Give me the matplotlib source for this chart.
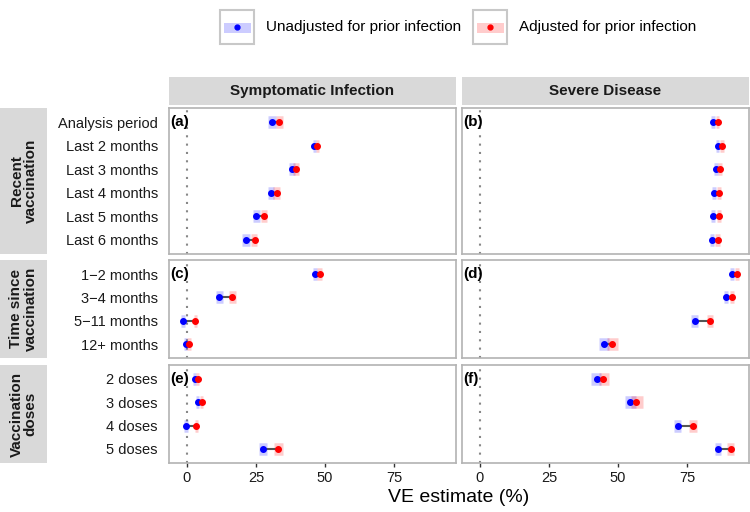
import matplotlib

matplotlib.use("Agg")
import matplotlib.pyplot as plt
from matplotlib.patches import Rectangle
from matplotlib.transforms import blended_transform_factory

plt.rcParams["font.family"] = ["Liberation Sans", "DejaVu Sans"]

# ---- data -----------------------------------------------------------------
groups = ["Recent\nvaccination", "Time since\nvaccination", "Vaccination\ndoses"]
group_sizes = [6, 4, 4]
categories = [
    "Analysis period", "Last 2 months", "Last 3 months", "Last 4 months",
    "Last 5 months", "Last 6 months",
    "1\u22122 months", "3\u22124 months", "5\u221211 months", "12+ months",
    "2 doses", "3 doses", "4 doses", "5 doses",
]
outcomes = ["Symptomatic Infection", "Severe Disease"]
panel_tags = [["(a)", "(b)"], ["(c)", "(d)"], ["(e)", "(f)"]]

sym_unadj = [30.7, 46.1, 38.0, 30.4, 25.2, 21.4, 46.5, 11.6, -1.3, -0.4, 2.8, 3.9, -0.3, 27.7]
sym_unadj_lo = [29.2, 45.6, 37.1, 29.2, 24.0, 20.0, 45.6, 10.5, -2.0, -1.0, 2.2, 3.3, -0.9, 26.0]
sym_unadj_hi = [32.1, 46.7, 39.0, 31.6, 26.4, 22.8, 47.3, 12.9, -0.6, 0.2, 3.4, 4.5, 0.3, 29.1]
sym_adj = [33.2, 47.2, 39.5, 32.5, 27.9, 24.5, 48.1, 16.5, 3.1, 0.8, 3.9, 5.4, 3.4, 33.0]
sym_adj_lo = [32.1, 46.7, 38.5, 31.3, 26.7, 23.2, 47.3, 15.2, 2.5, 0.2, 3.3, 4.8, 2.8, 31.4]
sym_adj_hi = [34.8, 48.0, 40.5, 33.7, 29.1, 25.5, 49.0, 17.8, 3.7, 1.4, 4.5, 6.0, 4.0, 34.7]

sev_unadj = [84.3, 86.1, 85.4, 84.8, 84.6, 84.0, 91.2, 89.2, 77.8, 45.1, 42.4, 54.5, 71.6, 86.2]
sev_unadj_lo = [83.6, 85.5, 84.7, 84.1, 83.9, 83.2, 90.5, 88.4, 76.6, 43.2, 40.4, 52.4, 70.3, 85.0]
sev_unadj_hi = [85.0, 86.8, 86.1, 85.5, 85.3, 84.8, 91.9, 90.0, 79.0, 46.8, 43.9, 56.7, 72.9, 87.4]
sev_adj = [86.1, 87.6, 87.1, 86.6, 86.5, 86.1, 93.1, 91.4, 83.4, 48.0, 44.7, 56.7, 77.2, 90.9]
sev_adj_lo = [85.4, 86.9, 86.4, 85.9, 85.8, 85.3, 92.4, 90.6, 82.2, 46.1, 43.0, 54.8, 75.9, 89.7]
sev_adj_hi = [86.8, 88.3, 87.8, 87.3, 87.2, 86.9, 93.8, 92.2, 84.6, 50.2, 46.8, 59.1, 78.5, 92.1]

series = [
    (sym_unadj, sym_unadj_lo, sym_unadj_hi, sym_adj, sym_adj_lo, sym_adj_hi),
    (sev_unadj, sev_unadj_lo, sev_unadj_hi, sev_adj, sev_adj_lo, sev_adj_hi),
]
x_ticks = [0, 25, 50, 75]
legend_labels = ["Unadjusted for prior infection", "Adjusted for prior infection"]

# ---- layout (pixels) ------------------------------------------------------
W, H = 750, 512
BLUE, RED = "#0000ff", "#ff0000"
STRIP = "#d9d9d9"
BORDER = "#b3b3b3"
TXT = "#1a1a1a"


def px(x0, y0, x1, y1):
    return [x0 / W, 1 - y1 / H, (x1 - x0) / W, (y1 - y0) / H]


col_x = [(169, 456), (462, 749)]
row_y = [(108, 254), (260, 358), (365, 463)]

fig = plt.figure(figsize=(W / 100, H / 100), dpi=100)

start = 0
for r, n in enumerate(group_sizes):
    y0, y1 = row_y[r]
    idx = list(range(start, start + n))
    ypos = list(range(n))

    # row strip
    sax = fig.add_axes(px(0, y0, 47, y1))
    sax.set_facecolor(STRIP)
    sax.set_xticks([])
    sax.set_yticks([])
    for s in sax.spines.values():
        s.set_visible(False)
    sax.text(0.5, 0.5, groups[r], rotation=90, ha="center", va="center",
             fontsize=11, fontweight="bold", color=TXT, transform=sax.transAxes,
             linespacing=1.0)

    for c in range(2):
        x0, x1 = col_x[c]
        ax = fig.add_axes(px(x0, y0, x1, y1))
        u, ulo, uhi, a, alo, ahi = series[c]
        uu = [u[i] for i in idx]
        aa = [a[i] for i in idx]

        ax.axvline(0, color="#888888", ls=(0, (1, 3)), lw=1.5, zorder=1)
        ax.hlines(ypos, [ulo[i] for i in idx], [uhi[i] for i in idx],
                  color=BLUE, alpha=0.2, lw=9, capstyle="butt", zorder=2)
        ax.hlines(ypos, [alo[i] for i in idx], [ahi[i] for i in idx],
                  color=RED, alpha=0.2, lw=9, capstyle="butt", zorder=2)
        ax.hlines(ypos, uu, aa, color="#555555", lw=1.5, zorder=3)
        ax.plot(uu, ypos, "o", color=BLUE, ms=4, zorder=4)
        ax.plot(aa, ypos, "o", color=RED, ms=4, zorder=5)

        ax.set_xlim(-6.5, 97.5)
        ax.set_ylim(n - 0.4, -0.6)
        for s in ax.spines.values():
            s.set_color(BORDER)
            s.set_linewidth(1.2)

        ax.set_yticks(ypos)
        if c == 0:
            ax.set_yticklabels([categories[i] for i in idx], fontsize=10.5, color=TXT)
        else:
            ax.set_yticklabels([])
        ax.tick_params(axis="y", length=0, pad=8)

        ax.set_xticks(x_ticks)
        if r == len(group_sizes) - 1:
            ax.tick_params(axis="x", length=3, width=1, color="#333333",
                           labelsize=10.5, labelcolor=TXT, pad=3)
        else:
            ax.tick_params(axis="x", length=0, labelbottom=False)

        tr = blended_transform_factory(ax.transAxes, ax.transData)
        ax.text(0.005, 0, panel_tags[r][c], transform=tr, ha="left", va="center",
                fontsize=11, fontweight="bold", color="black", zorder=6)

        if r == 0:
            cax = fig.add_axes(px(x0, 77, x1, 105))
            cax.set_facecolor(STRIP)
            cax.set_xticks([])
            cax.set_yticks([])
            for s in cax.spines.values():
                s.set_visible(False)
            cax.text(0.5, 0.5, outcomes[c], ha="center", va="center", fontsize=11,
                     fontweight="bold", color=TXT, transform=cax.transAxes)
    start += n

fig.text(459 / W, 1 - 497 / H, "VE estimate (%)", ha="center", va="center",
         fontsize=14, color="black")

# ---- legend -----------------------------------------------------------------
lax = fig.add_axes([0, 0, 1, 1], zorder=-1)
lax.set_xlim(0, W)
lax.set_ylim(H, 0)
lax.axis("off")
for kx, tx, col, lab in [(220, 266, BLUE, legend_labels[0]),
                         (473, 519, RED, legend_labels[1])]:
    lax.add_patch(Rectangle((kx, 10), 34, 34, facecolor="white",
                            edgecolor="#c8c8c8", lw=1.5))
    lax.add_patch(Rectangle((kx + 4, 22.5), 26.5, 10, facecolor=col,
                            alpha=0.2, lw=0))
    lax.plot([kx + 17], [27.3], "o", color=col, ms=3.5)
    lax.text(tx, 27.5, lab, ha="left", va="center", fontsize=11, color="black")

fig.savefig("out.png", dpi=100)
